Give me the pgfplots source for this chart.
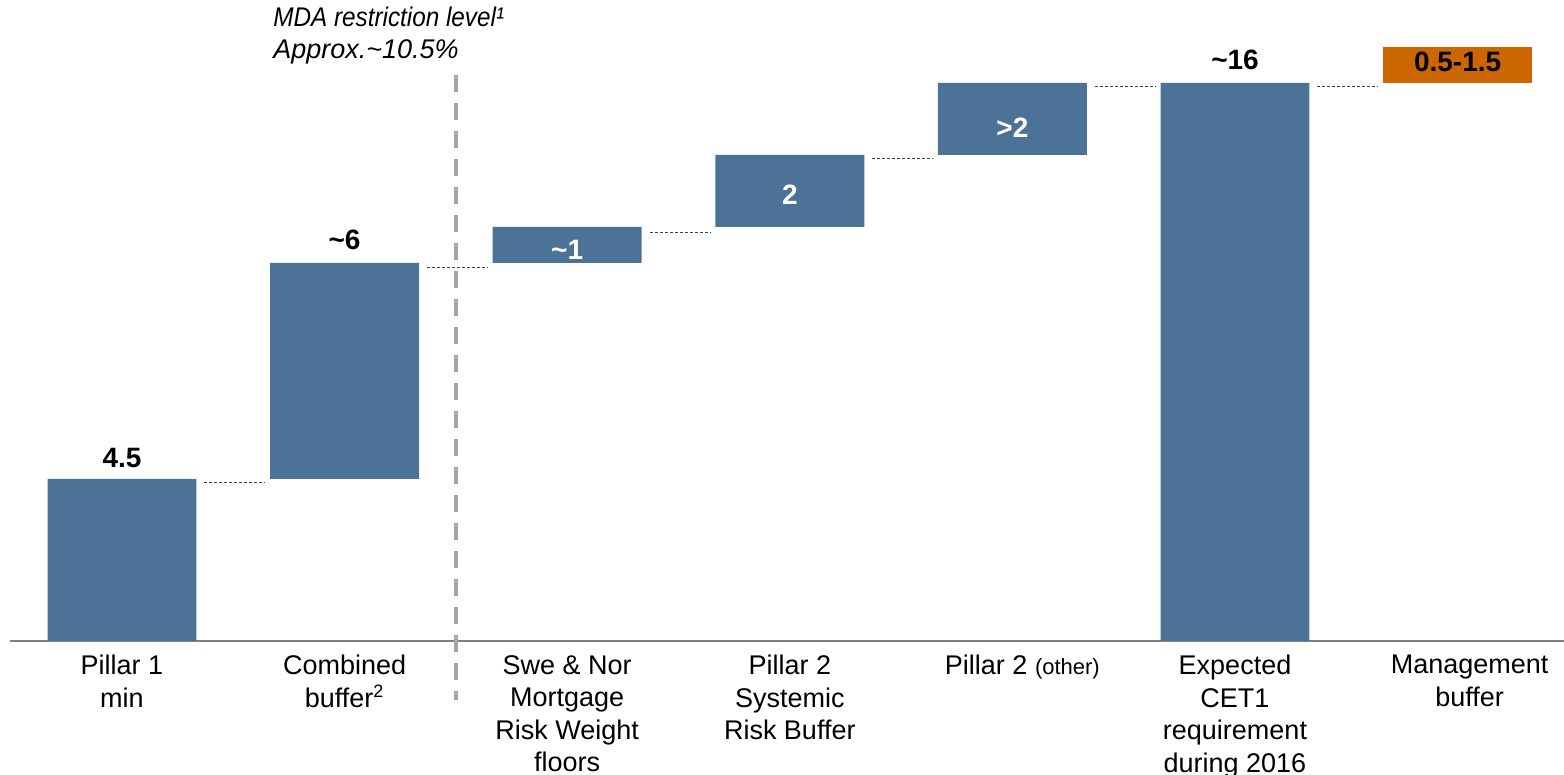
\documentclass[border=0pt]{standalone}
\usepackage{fontspec}
\setmainfont{Liberation Sans}
\newfontfamily\mdafont[FakeStretch=0.9]{Liberation Sans}
\usepackage{pgfplots}
\pgfplotsset{compat=1.18}
\definecolor{barblue}{HTML}{4C7298}
\definecolor{mgmt}{HTML}{CC6600}
\definecolor{axgrey}{HTML}{808080}
\definecolor{mdagrey}{HTML}{A6A6A6}
\definecolor{conn}{HTML}{404040}
\begin{document}
\begin{tikzpicture}
\begin{axis}[
  name=main,
  scale only axis,
  width=777pt, height=320.5pt,
  xmin=-0.503, xmax=6.478,
  ymin=0, ymax=17.8,
  ybar stacked, bar width=0.669,
  axis x line=bottom, axis y line=none,
  x axis line style={-, axgrey, line width=1pt},
  xtick={0,1,2,3,4,5,6},
  xticklabels={
    {Pillar 1\\min},
    {Combined\\buffer\textsuperscript{\fontsize{9}{9}\selectfont 2}},
    {Swe \& Nor\\Mortgage\\Risk Weight\\floors},
    {Pillar 2\\Systemic\\Risk Buffer},
    {\hspace*{10pt}Pillar 2 {\fontsize{11}{11}\selectfont (other)}},
    {Expected\\CET1\\requirement\\during 2016},
    {\hspace*{12pt}Management\\\hspace*{12pt}buffer}},
  major tick length=0pt,
  xticklabel style={font=\fontsize{13.5}{16.25}\selectfont, align=center, anchor=north, inner sep=0pt, yshift=-7pt},
  clip=false,
]
\addplot[fill=none, draw=none] coordinates {(0,0) (1,4.5) (2,10.5) (3,11.5) (4,13.5) (5,0) (6,15.5)};
\addplot[fill=barblue, draw=none] coordinates {(0,4.5) (1,6) (2,1) (3,2) (4,2) (5,15.5) (6,0)};
\addplot[fill=mgmt, draw=none] coordinates {(0,0) (1,0) (2,0) (3,0) (4,0) (5,0) (6,1)};

% connectors
\draw[conn, line width=0.5pt, dash pattern=on 1.5pt off 1pt] (axis cs:0.37,4.4) -- (axis cs:0.64,4.4);
\draw[conn, line width=0.5pt, dash pattern=on 1.5pt off 1pt] (axis cs:1.37,10.36) -- (axis cs:1.64,10.36);
\draw[conn, line width=0.5pt, dash pattern=on 1.5pt off 1pt] (axis cs:2.37,11.33) -- (axis cs:2.64,11.33);
\draw[conn, line width=0.5pt, dash pattern=on 1.5pt off 1pt] (axis cs:3.37,13.4) -- (axis cs:3.64,13.4);
\draw[conn, line width=0.5pt, dash pattern=on 1.5pt off 1pt] (axis cs:4.37,15.4) -- (axis cs:4.64,15.4);
\draw[conn, line width=0.5pt, dash pattern=on 1.5pt off 1pt] (axis cs:5.37,15.4) -- (axis cs:5.64,15.4);

% MDA line
\draw[mdagrey, line width=2pt, dash pattern=on 8.5pt off 5.5pt] (axis cs:1.5,15.72) -- (axis cs:1.5,-1.64);
\coordinate (mda) at (axis cs:0.678,17.62);

\coordinate (v0) at (axis cs:0,4.83);
\coordinate (v1) at (axis cs:1,10.86);
\coordinate (v2) at (axis cs:2,10.58);
\coordinate (v3) at (axis cs:3,12.11);
\coordinate (v4) at (axis cs:4,13.97);
\coordinate (v5) at (axis cs:5,15.86);
\coordinate (v6) at (axis cs:6,15.81);
\end{axis}
\node[anchor=north west, align=left, inner sep=0pt, font=\fontsize{13.5}{16}\selectfont\itshape] at (mda) {{\mdafont\itshape MDA restriction level¹}\\Approx.\textasciitilde 10.5\%};
\tikzset{vl/.style={anchor=base, inner sep=0pt, font=\fontsize{14}{14}\selectfont\bfseries}}
\node[vl] at (v0) {4.5};
\node[vl] at (v1) {\textasciitilde 6};
\node[vl, white] at (v2) {\textasciitilde 1};
\node[vl, white] at (v3) {2};
\node[vl, white] at (v4) {>2};
\node[vl] at (v5) {\textasciitilde 16};
\node[vl] at (v6) {0.5-1.5};
\pgfresetboundingbox
\path[use as bounding box] ([shift={(-5pt,-67pt)}]main.south west) rectangle (main.north east);
\end{tikzpicture}
\end{document}
